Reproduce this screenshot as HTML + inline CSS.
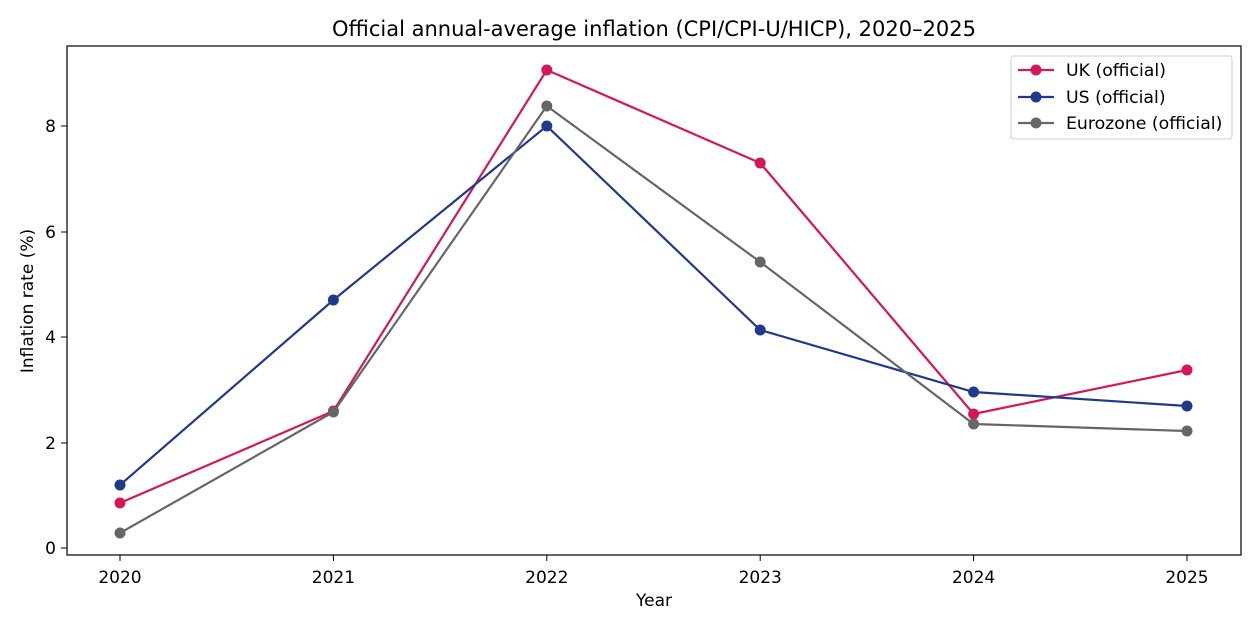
<!DOCTYPE html>
<html><head><meta charset="utf-8"><style>body{margin:0;background:#fff}svg{display:block}text{font-family:"DejaVu Sans","Liberation Sans",sans-serif;fill:#000}</style></head>
<body>
<svg width="1260" height="629" viewBox="0 0 1260 629">
<rect width="1260" height="629" fill="#fff"/>
<text x="654" y="36" font-size="21" text-anchor="middle">Official annual-average inflation (CPI/CPI-U/HICP), 2020–2025</text>
<g stroke="#000" stroke-width="1">
<line x1="120" y1="555" x2="120" y2="561"/><line x1="333.4" y1="555" x2="333.4" y2="561"/><line x1="546.8" y1="555" x2="546.8" y2="561"/><line x1="760.2" y1="555" x2="760.2" y2="561"/><line x1="973.6" y1="555" x2="973.6" y2="561"/><line x1="1187" y1="555" x2="1187" y2="561"/>
<line x1="61" y1="548" x2="67" y2="548"/><line x1="61" y1="443" x2="67" y2="443"/><line x1="61" y1="337" x2="67" y2="337"/><line x1="61" y1="232" x2="67" y2="232"/><line x1="61" y1="126" x2="67" y2="126"/>
</g>
<g font-size="17" text-anchor="middle">
<text x="120" y="583">2020</text><text x="333.4" y="583">2021</text><text x="546.8" y="583">2022</text><text x="760.2" y="583">2023</text><text x="973.6" y="583">2024</text><text x="1187" y="583">2025</text>
</g>
<g font-size="17" text-anchor="end">
<text x="56" y="554">0</text><text x="56" y="449">2</text><text x="56" y="343">4</text><text x="56" y="238">6</text><text x="56" y="132">8</text>
</g>
<text x="654" y="606" font-size="17" text-anchor="middle">Year</text>
<text transform="translate(33,301) rotate(-90)" font-size="17" text-anchor="middle">Inflation rate (%)</text>
<g fill="none" stroke-width="2.2">
<polyline stroke="#d6165a" points="120,503 333.4,411 546.8,70 760.2,163 973.6,414 1187,370"/>
<polyline stroke="#1f3a8a" points="120,485 333.4,300 546.8,126 760.2,330 973.6,392 1187,406"/>
<polyline stroke="#666" points="120,533 333.4,412 546.8,106 760.2,262 973.6,424 1187,431"/>
</g>
<g fill="#d6165a"><circle cx="120" cy="503" r="5.5"/><circle cx="333.4" cy="411" r="5.5"/><circle cx="546.8" cy="70" r="5.5"/><circle cx="760.2" cy="163" r="5.5"/><circle cx="973.6" cy="414" r="5.5"/><circle cx="1187" cy="370" r="5.5"/></g>
<g fill="#1f3a8a"><circle cx="120" cy="485" r="5.5"/><circle cx="333.4" cy="300" r="5.5"/><circle cx="546.8" cy="126" r="5.5"/><circle cx="760.2" cy="330" r="5.5"/><circle cx="973.6" cy="392" r="5.5"/><circle cx="1187" cy="406" r="5.5"/></g>
<g fill="#666"><circle cx="120" cy="533" r="5.5"/><circle cx="333.4" cy="412" r="5.5"/><circle cx="546.8" cy="106" r="5.5"/><circle cx="760.2" cy="262" r="5.5"/><circle cx="973.6" cy="424" r="5.5"/><circle cx="1187" cy="431" r="5.5"/></g>
<rect x="67" y="46" width="1174" height="509" fill="none" stroke="#000" stroke-width="1.2"/>
<rect x="1011" y="56" width="221" height="83" rx="3" fill="#fff" fill-opacity="0.8" stroke="#ccc"/>
<g stroke-width="2.2">
<line x1="1018" y1="70" x2="1054" y2="70" stroke="#d6165a"/><circle cx="1036" cy="70" r="5.5" fill="#d6165a"/>
<line x1="1018" y1="97" x2="1054" y2="97" stroke="#1f3a8a"/><circle cx="1036" cy="97" r="5.5" fill="#1f3a8a"/>
<line x1="1018" y1="123" x2="1054" y2="123" stroke="#666"/><circle cx="1036" cy="123" r="5.5" fill="#666"/>
</g>
<g font-size="17.3"><text x="1066" y="76">UK (official)</text><text x="1066" y="103">US (official)</text><text x="1066" y="129">Eurozone (official)</text></g>
</svg>
</body></html>
